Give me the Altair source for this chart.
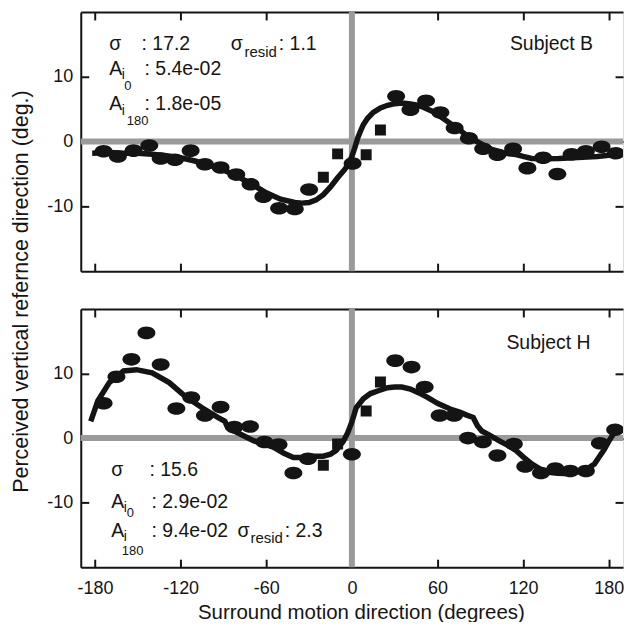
import altair as alt
import pandas as pd

FONT = "Liberation Sans"
INK = "#141414"
GRAY = "#9a9a9a"

# ---------------- Subject B (top panel) ----------------
b_circ_x = [-174, -164, -153, -142, -134, -124, -113, -103, -92, -81, -71, -62, -51, -40, -30,
            0.5, 31, 41, 52, 62, 72, 82, 92, 102, 113, 123, 134, 144, 154, 164, 175, 185]
b_circ_y = [-1.5, -2.3, -1.4, -0.6, -2.6, -2.8, -1.4, -3.5, -4.0, -5.1, -6.6, -8.5, -10.3, -10.4, -7.4,
            -3.4, 7.0, 4.9, 6.3, 4.5, 2.1, 0.5, -1.1, -2.05, -1.1, -4.1, -2.5, -5.0, -1.95, -1.5, -0.8, -1.8]
b_sq_x = [-20, -10, 10, 20]
b_sq_y = [-5.5, -1.9, -2.05, 1.8]
b_fit_x = [-182, -170, -160, -150, -140, -130, -120, -110, -100, -90, -80, -70, -60, -50, -40, -35,
           -30, -25, -20, -15, -10, -5, -2, 0, 2, 4, 6, 8, 11, 15, 20, 25, 30, 35, 40, 45, 50, 57,
           63, 69, 75, 80, 86, 92, 98, 104, 110, 115, 120, 126, 135, 145, 155, 165, 172, 180, 188]
b_fit_y = [-1.8, -1.7, -1.8, -1.8, -1.95, -2.2, -2.5, -3.0, -3.6, -4.4, -5.4, -6.6, -7.9, -8.9, -9.4, -9.5,
           -9.4, -9.0, -8.2, -7.0, -5.6, -4.3, -3.3, -2.3, -1.0, 0.5, 1.6, 2.6, 3.6, 4.5, 5.2, 5.6, 5.85, 5.95,
           5.85, 5.65, 5.3, 4.6, 3.7, 2.8, 1.9, 1.0, 0.2, -0.5, -1.2, -1.6, -1.9, -2.0, -2.3, -2.6, -2.65,
           -2.6, -2.5, -2.4, -2.3, -2.1, -2.0]

# ---------------- Subject H (bottom panel) ----------------
h_circ_x = [-174, -165, -154.5, -144, -134, -123, -112.6, -103, -92, -82.4, -71.4, -61.3, -51.4, -41, -30.8,
            0, 30.4, 41.8, 51, 61.5, 71.6, 81.4, 91.8, 102, 113.5, 121.5, 132.5, 142.6, 153, 164, 173.8, 184.5]
h_circ_y = [5.4, 9.5, 12.2, 16.3, 11.4, 4.6, 6.3, 3.5, 4.8, 1.7, 1.8, -0.6, -1.0, -5.4, -3.2,
            -2.5, 12.0, 11.0, 7.9, 3.5, 3.5, 0.0, -0.6, -2.7, -0.9, -4.4, -5.4, -4.7, -5.1, -5.1, -0.8, 1.3]
h_sq_x = [-20, -10, 10, 20]
h_sq_y = [-4.2, -0.9, 4.2, 8.7]
h_fit_x = [-183, -178, -170, -160, -151, -140, -128, -117, -105, -94, -89, -87, -78, -69, -55, -48, -41,
           -35, -28, -20, -15, -11, -6, -3, 0, 3, 8, 13, 18, 25, 30, 35, 41, 47, 53, 60, 65, 70, 76, 80,
           85, 88, 91, 97, 103, 109, 115, 120, 126, 132, 138, 144, 149, 155, 160, 166, 170, 173, 176.5,
           180, 184, 188]
h_fit_y = [2.6, 5.8, 8.6, 10.4, 10.6, 10.1, 8.6, 6.5, 4.7, 3.2, 2.6, 1.6, 0.6, -0.4, -1.4, -2.3, -3.0,
           -3.0, -2.8, -2.8, -2.5, -1.9, -0.5, 0.8, 2.5, 4.7, 6.1, 6.9, 7.3, 7.8, 7.9, 7.9, 7.6, 7.0, 6.3,
           5.4, 4.9, 4.4, 4.0, 3.6, 3.2, 1.9, 1.1, 0.4, -0.4, -1.1, -1.9, -2.9, -4.0, -4.8, -5.3, -5.45,
           -5.5, -5.4, -5.1, -4.6, -4.0, -3.0, -1.9, -0.5, 0.9, 1.7]

# ---------------- annotations (text, x, y, font size) ----------------
b_notes_text = ["σ", ": 17.2", "A", "i", "0", ": 5.4e-02", "A", "i", "180", ": 1.8e-05",
                "σ", "resid", ": 1.1"]
b_notes_x = [-170, -147.4, -170, -161.2, -159.5, -145.3, -170, -161.2, -157.7, -145.3, -84.9, -75.3, -51.2]
b_notes_y = [14.15, 14.15, 10.3, 9.7, 8.0, 10.3, 4.9, 4.15, 2.6, 4.9, 14.15, 13.1, 14.15]
b_notes_size = [19.5, 19.5, 19.5, 14, 13, 19.5, 19.5, 14, 13, 19.5, 19.5, 15, 19.5]

h_notes_text = ["σ", ": 15.6", "A", "i", "0", ": 2.9e-02", "A", "i", "180", ": 9.4e-02",
                "σ", "resid", ": 2.3"]
h_notes_x = [-168.7, -141.9, -168.7, -159.8, -157.7, -140.5, -168.7, -159.8, -161.2, -140.5, -80.1, -71.1, -47.1]
h_notes_y = [-5.9, -5.9, -10.85, -11.5, -12.2, -10.85, -15.3, -15.9, -18.1, -15.3, -15.3, -16.2, -15.3]
h_notes_size = [19.5, 19.5, 19.5, 14, 13, 19.5, 19.5, 14, 13, 19.5, 19.5, 15, 19.5]

subject_labels = ["Subject B", "Subject H"]
subject_x = [169, 167.3]
subject_y = [14.2, 13.8]

x_ticks = [-180, -120, -60, 0, 60, 120, 180]
y_ticks = [-10, 0, 10]
X_DOMAIN = [-190, 190]
Y_DOMAIN = [-20, 20]
W = 544
ELLIPSE = "M -1 0 A 1 0.7 0 1 0 1 0 A 1 0.7 0 1 0 -1 0 Z"
LABEL_EXPR = "toString(datum.value)"


def panel(cx, cy, sx, sy, fx, fy, nt, nx, ny, ns, subj, sxx, syy, h, bottom):
    xs = alt.Scale(domain=X_DOMAIN, nice=False, zero=False)
    ys = alt.Scale(domain=Y_DOMAIN, nice=False, zero=False)
    ref = pd.DataFrame({"v": [0]})
    circ = pd.DataFrame({"x": cx, "y": cy})
    sq = pd.DataFrame({"x": sx, "y": sy})
    fit = pd.DataFrame({"x": fx, "y": fy})
    notes = pd.DataFrame({"x": nx, "y": ny, "t": nt, "s": ns})
    subjdf = pd.DataFrame({"x": [sxx], "y": [syy], "t": [subj]})

    tick_kw = dict(values=x_ticks, labels=False, title=None, ticks=True, tickSize=8,
                   tickWidth=2, tickColor=INK, domainColor=INK, domainWidth=2, grid=False)
    ytick_kw = dict(values=y_ticks, labels=False, title=None, ticks=True, tickSize=8,
                    tickWidth=2, tickColor=INK, domainColor=INK, domainWidth=2, grid=False)

    vline = alt.Chart(ref).mark_rule(color=GRAY, strokeWidth=6).encode(
        x=alt.X("v:Q", scale=xs, axis=None))
    hline = alt.Chart(ref).mark_rule(color=GRAY, strokeWidth=6).encode(
        y=alt.Y("v:Q", scale=ys, axis=None))

    if bottom:
        xlab = alt.Axis(orient="bottom", values=x_ticks, domain=False, ticks=False, tickSize=0,
                        labelFontSize=18, labelPadding=12, labelColor=INK, labelFont=FONT,
                        labelExpr=LABEL_EXPR,
                        grid=False, title="Surround motion direction (degrees)",
                        titleFontSize=20.5, titleFontWeight="normal", titleColor=INK, titleFont=FONT,
                        titleX=281, titleY=51, titleAlign="center", titleBaseline="alphabetic")
        ylab = alt.Axis(orient="left", values=y_ticks, domain=False, ticks=False, tickSize=0,
                        labelFontSize=18, labelPadding=8, labelColor=INK, labelFont=FONT,
                        labelExpr=LABEL_EXPR, grid=False, title=None)
    else:
        xlab = alt.Axis(orient="bottom", values=x_ticks, domain=False, ticks=False, tickSize=0,
                        labels=False, grid=False, title=None)
        ylab = alt.Axis(orient="left", values=y_ticks, domain=False, ticks=False, tickSize=0,
                        labelFontSize=18, labelPadding=8, labelColor=INK, labelFont=FONT,
                        labelExpr=LABEL_EXPR,
                        grid=False, title="Perceived vertical refernce direction (deg.)",
                        titleFontSize=21.5, titleFontWeight="normal", titleColor=INK, titleFont=FONT,
                        titleAngle=270, titleX=-53, titleY=280, titleAlign="center",
                        titleBaseline="alphabetic")

    line = alt.Chart(fit).mark_line(color=INK, strokeWidth=5.5, clip=True).encode(
        x=alt.X("x:Q", scale=xs, axis=xlab),
        y=alt.Y("y:Q", scale=ys, axis=ylab),
        order="x:Q")

    pts = alt.Chart(circ).mark_point(shape=ELLIPSE, size=324, filled=True, color=INK, opacity=1,
                                     clip=True).encode(
        x=alt.X("x:Q", scale=xs, axis=alt.Axis(orient="top", offset=-h, domain=True, **tick_kw)),
        y=alt.Y("y:Q", scale=ys, axis=alt.Axis(orient="right", offset=-W, domain=True, **ytick_kw)))

    sqs = alt.Chart(sq).mark_point(shape="square", size=121, filled=True, color=INK, opacity=1,
                                   clip=True).encode(
        x=alt.X("x:Q", scale=xs, axis=alt.Axis(orient="bottom", offset=-h, domain=True, **tick_kw)),
        y=alt.Y("y:Q", scale=ys, axis=alt.Axis(orient="left", offset=-W, domain=False, **ytick_kw)))

    txt = alt.Chart(notes).mark_text(align="left", baseline="alphabetic", font=FONT,
                                     color=INK).encode(
        x=alt.X("x:Q", scale=xs, axis=None),
        y=alt.Y("y:Q", scale=ys, axis=None),
        text="t:N",
        size=alt.Size("s:Q", scale=None, legend=None))

    subj_t = alt.Chart(subjdf).mark_text(align="right", baseline="alphabetic", font=FONT,
                                         color=INK, fontSize=19.5).encode(
        x=alt.X("x:Q", scale=xs, axis=None),
        y=alt.Y("y:Q", scale=ys, axis=None),
        text="t:N")

    return alt.layer(vline, hline, line, pts, sqs, txt, subj_t).resolve_axis(
        x="independent", y="independent").properties(width=W, height=h)


top = panel(b_circ_x, b_circ_y, b_sq_x, b_sq_y, b_fit_x, b_fit_y,
            b_notes_text, b_notes_x, b_notes_y, b_notes_size,
            subject_labels[0], subject_x[0], subject_y[0], 260, False)
bot = panel(h_circ_x, h_circ_y, h_sq_x, h_sq_y, h_fit_x, h_fit_y,
            h_notes_text, h_notes_x, h_notes_y, h_notes_size,
            subject_labels[1], subject_x[1], subject_y[1], 259, True)

chart = alt.vconcat(top, bot, spacing=38, bounds="flush").configure_view(
    stroke=None).configure(font=FONT).properties(
    padding={"left": 2, "top": -1, "right": -3, "bottom": -2},
    background="white")

chart.save("out.html", embed_options={"renderer": "svg", "actions": False})
